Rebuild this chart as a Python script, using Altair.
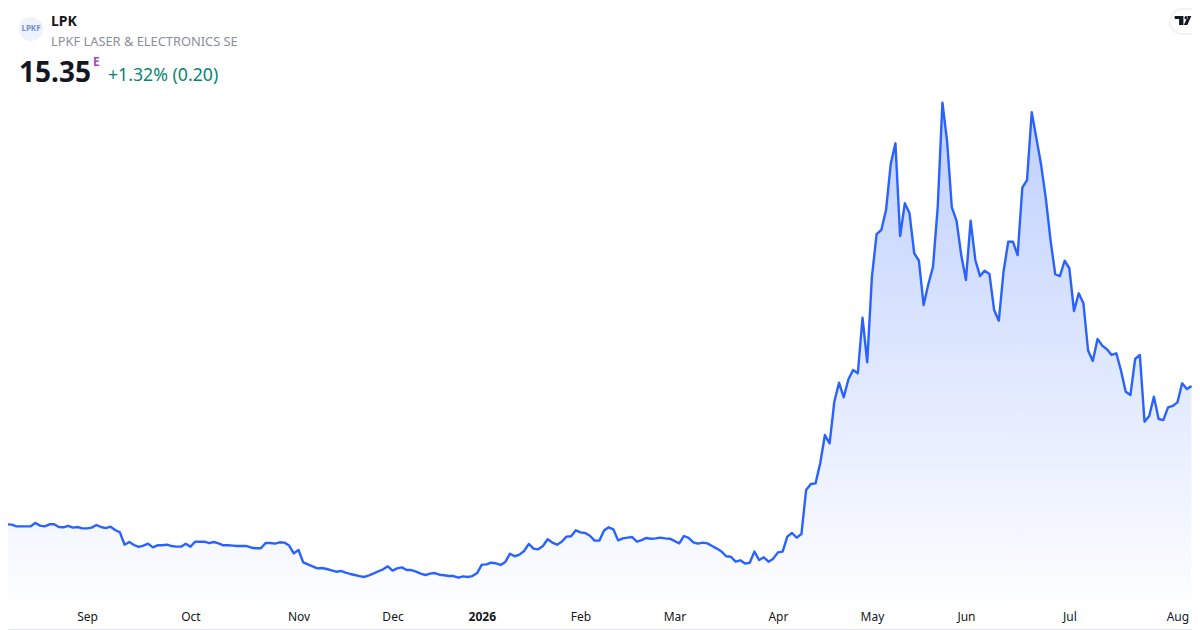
import altair as alt
import pandas as pd

# Trading-day closes
prices_autumn = [
    6.13,6.13,6.11,5.99,5.99,5.99,5.99,6.22,6.04,5.99,6.13,6.13,5.95,5.93,6.02,5.91,5.95,5.86,5.86,5.91,
    6.08,5.95,5.88,5.97,5.75,5.59,4.77,4.95,4.75,4.62,4.71,4.84,4.59,4.73,4.73,4.77,4.68,4.64,4.64,4.84,
    4.64,4.97,4.97,4.97,4.88,4.95,4.86,4.73,4.73,4.71,4.68,4.68,4.68,4.57,4.53,4.53,4.88,4.88,4.84,4.93,
    4.91,4.71,4.19,4.42,3.59,3.46,3.33,3.19,3.22,3.15,3.06,2.97,3.02,2.91,2.82,2.75,2.68,2.62,2.73,2.86,
    3.00,3.13,3.33,3.04,3.19,
]
prices_winter = [
    3.26,3.08,3.08,2.97,2.84,2.75,2.84,2.88,2.77,2.73,2.68,2.68,2.57,2.66,2.62,2.68,2.88,3.44,3.46,3.57,
    3.53,3.42,3.62,4.17,4.00,4.11,4.35,4.82,4.51,4.46,4.68,5.13,4.91,4.77,4.97,5.31,5.33,5.73,5.59,5.55,
    5.37,5.04,5.04,5.71,5.93,5.79,5.06,5.19,5.24,5.28,4.97,5.08,5.22,5.17,5.19,5.24,5.19,5.17,5.02,4.86,
    5.35,5.22,4.93,4.84,4.91,4.86,4.68,4.51,4.31,4.00,3.97,3.64,3.73,3.51,3.57,4.31,3.75,3.93,3.64,3.84,
    4.26,4.31,5.31,5.55,5.24,
]
prices_spring = [
    5.48,8.42,8.82,8.86,10.20,12.08,11.53,14.30,15.57,14.60,15.80,16.42,16.20,19.90,16.93,22.64,25.48,25.75,27.08,30.15,
    31.53,25.35,27.53,26.86,24.20,23.70,20.75,22.13,23.30,27.30,34.24,31.64,27.26,26.37,24.08,22.42,26.37,23.75,22.68,23.04,
    22.82,20.42,19.70,22.97,24.97,24.97,24.08,28.57,29.08,33.60,31.86,30.08,27.86,25.08,22.80,22.68,23.70,23.20,20.35,21.53,
    20.86,17.70,17.02,18.48,18.04,17.80,17.42,17.53,16.37,14.97,14.75,17.15,17.42,12.97,13.35,14.64,13.15,13.08,13.93,14.02,
    14.26,15.53,15.15,15.35,
]
prices = prices_autumn + prices_winter + prices_spring

tick_days = [18, 40, 63, 83, 102, 123, 143, 165, 185, 205, 227, 250]
tick_labels = ["Sep", "Oct", "Nov", "Dec", "2026", "Feb", "Mar", "Apr", "May", "Jun", "Jul", "Aug"]

FONT = "Noto Sans"
df = pd.DataFrame({"day": list(range(len(prices))), "price": prices})

label_expr = "{}[indexof({}, datum.value)]".format(
    "[" + ",".join(f"'{t}'" for t in tick_labels) + "]", tick_days
)
x_enc = alt.X(
    "day:Q",
    scale=alt.Scale(domain=[1.19, 253.1], nice=False, zero=False),
    axis=alt.Axis(
        values=tick_days, labelExpr=label_expr, title=None, grid=False, domain=False, ticks=False,
        labelFont=FONT, labelFontSize=12, labelColor="#131722", labelPadding=7,
        labelOverlap=False, labelFlush=False, labelBound=False, labelAngle=0,
        labelFontWeight={"condition": {"test": "datum.value === 102", "value": 700}, "value": 400},
    ),
)
y_enc = alt.Y("price:Q", scale=alt.Scale(domain=[0.817, 40.55], nice=False, zero=False), axis=None)

area = alt.Chart(df).mark_area(
    clip=True,
    line=False,
    color=alt.Gradient(
        gradient="linear",
        stops=[
            alt.GradientStop(color="rgba(41,98,255,0.3)", offset=0),
            alt.GradientStop(color="rgba(41,98,255,0.0)", offset=1),
        ],
        x1=1, x2=1, y1=0, y2=1,
    ),
).encode(x=x_enc, y=y_enc, y2=alt.value(596))

line = alt.Chart(df).mark_line(clip=True, color="#2962FF", strokeWidth=2.4, strokeJoin="round").encode(x=x_enc, y=y_enc)


def txt(s, x, y, size, color, weight=400, align="left"):
    return alt.Chart(alt.Data(values=[{"t": s}])).mark_text(
        font=FONT, fontSize=size, color=color, fontWeight=weight, align=align, baseline="alphabetic"
    ).encode(x=alt.value(x - 8), y=alt.value(y - 8), text="t:N")


def one(mark, **enc):
    return alt.Chart(alt.Data(values=[{"a": 1}])).mark_point(**mark).encode(**enc)


logo = one(dict(shape="circle", size=576, filled=True, color="#eef2fb", opacity=1),
           x=alt.value(23), y=alt.value(21))
logo_text = alt.Chart(alt.Data(values=[{"t": "LPKF"}])).mark_text(
    font=FONT, fontSize=8, color="#6d8fd8", fontWeight=700, align="center", baseline="middle"
).encode(x=alt.value(23), y=alt.value(21), text="t:N")

blank = alt.Chart(alt.Data(values=[{"a": 1}]))
pill_shadow = blank.mark_rect(color="#000000", opacity=0.05, cornerRadius=13).encode(
    x=alt.value(1161), x2=alt.value(1200), y=alt.value(0), y2=alt.value(27))
pill = blank.mark_rect(color="#ffffff", cornerRadius=12).encode(
    x=alt.value(1163), x2=alt.value(1200), y=alt.value(2), y2=alt.value(25))
tv_path = ("M-0.98,-0.53H0.05V0.53H-0.46V-0.18H-0.98Z"
           "M0.17,-0.33a0.19,0.19 0 1,0 0.38,0a0.19,0.19 0 1,0 -0.38,0Z"
           "M0.58,-0.53H0.98L0.5,0.53H0.1Z")
tv = one(dict(shape=tv_path, size=289, filled=True, color="#131722", opacity=1, strokeWidth=0),
         x=alt.value(1175), y=alt.value(12.5))

border_bottom = blank.mark_rule(color="#e0e3eb", strokeWidth=1).encode(
    x=alt.value(0), x2=alt.value(1184), y=alt.value(621.5))

chart = alt.layer(
    area, line,
    logo, logo_text,
    txt("LPK", 51, 26, 14, "#131722", 700),
    txt("LPKF LASER & ELECTRONICS SE", 51, 46, 12.85, "#8a8e99"),
    txt("15.35", 19, 82, 28, "#131722", 700),
    txt("E", 93, 66, 12, "#ab47bc", 700),
    txt("+1.32% (0.20)", 108, 81, 17.7, "#06866f"),
    pill_shadow, pill, tv,
    border_bottom,
).properties(
    width=1184, height=596,
    padding={"left": 0, "top": 0, "right": 0, "bottom": 26},
    autosize=alt.AutoSizeParams(type="none"),
    background="#ffffff",
).configure_view(stroke=None)

chart.save("out.html", embed_options={"renderer": "svg", "actions": False})
